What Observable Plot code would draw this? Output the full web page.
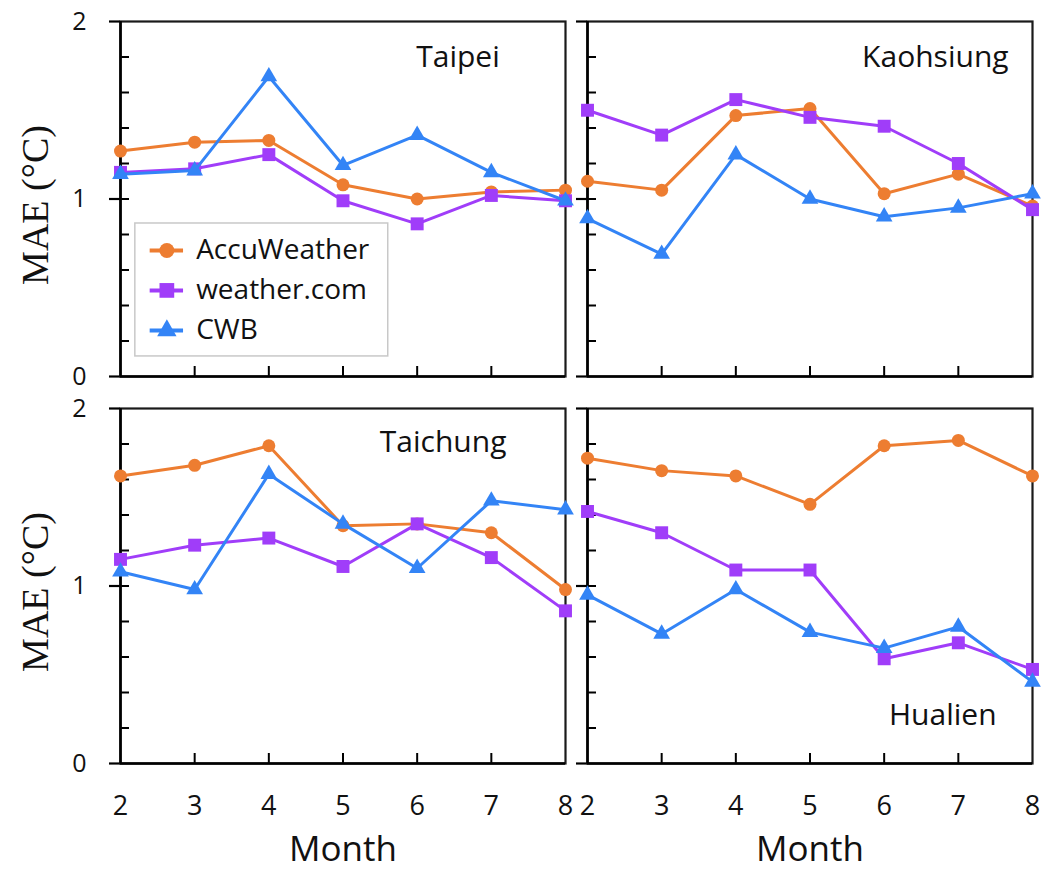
<!DOCTYPE html>
<html>
<head>
<meta charset="utf-8">
<script src="https://cdn.jsdelivr.net/npm/d3@7"></script>
<script src="https://cdn.jsdelivr.net/npm/@observablehq/plot@0.6"></script>
<style>
  html, body { margin: 0; padding: 0; background: #fff; }
  #chart { width: 1057px; height: 870px; }
</style>
</head>
<body>
<div id="chart"></div>
<script>
// ---- data ----
const months = [2, 3, 4, 5, 6, 7, 8];
const sources = ["AccuWeather", "weather.com", "CWB"];
const cities = ["Taipei", "Kaohsiung", "Taichung", "Hualien"];
const panelCol = ["L", "R", "L", "R"];
const panelRow = ["T", "T", "B", "B"];

// MAE per city (Taipei, Kaohsiung, Taichung, Hualien), months 2..8
const accuWeatherMAE = [
  [1.27, 1.32, 1.33, 1.08, 1.00, 1.04, 1.05],
  [1.10, 1.05, 1.47, 1.51, 1.03, 1.14, 0.96],
  [1.62, 1.68, 1.79, 1.34, 1.35, 1.30, 0.98],
  [1.72, 1.65, 1.62, 1.46, 1.79, 1.82, 1.62]
];
const weatherComMAE = [
  [1.15, 1.17, 1.25, 0.99, 0.86, 1.02, 0.99],
  [1.50, 1.36, 1.56, 1.46, 1.41, 1.20, 0.94],
  [1.15, 1.23, 1.27, 1.11, 1.35, 1.16, 0.86],
  [1.42, 1.30, 1.09, 1.09, 0.59, 0.68, 0.53]
];
const cwbMAE = [
  [1.14, 1.16, 1.69, 1.19, 1.36, 1.15, 0.99],
  [0.89, 0.69, 1.25, 1.00, 0.90, 0.95, 1.03],
  [1.08, 0.98, 1.63, 1.35, 1.10, 1.48, 1.43],
  [0.95, 0.73, 0.98, 0.74, 0.65, 0.77, 0.46]
];
const yMajorTicks = [0, 1, 2];
const yMinorTicks = [0.2, 0.4, 0.6, 0.8, 1, 1.2, 1.4, 1.6, 1.8];
const xInnerTicks = [3, 4, 5, 6, 7];
const xTickLabels = [2, 3, 4, 5, 6, 7, 8];

// ---- styles / layout ----
const sourceColors = ["#ED7D31", "#A03DF9", "#3384F6"];
const sourceSymbols = ["circle", "square", "triangle"];
const sourceRadius = [6.5, 7.3, 6.2];
const SANS = "'Open Sans', sans-serif";
const SERIF = "'Liberation Serif', 'DejaVu Serif', serif";
const cityLabelPos = {
  Taipei: [6.55, 1.80],
  Kaohsiung: [6.69, 1.80],
  Taichung: [6.35, 1.81],
  Hualien: [6.79, 0.27]
};
const legendBox = { x1: 2.20, x2: 5.61, y1: 0.113, y2: 0.862 };
const legendRowY = [0.710, 0.485, 0.259];
const legendLine = { x1: 2.40, x2: 2.85, marker: 2.625, text: 3.02 };

// ---- build tables ----
const series = [accuWeatherMAE, weatherComMAE, cwbMAE];
const rows = [];
cities.forEach((city, ci) =>
  sources.forEach((source, si) =>
    months.forEach((month, mi) =>
      rows.push({ city, source, si, month, mae: series[si][ci][mi], col: panelCol[ci], row: panelRow[ci] })
    )
  )
);
const panels = cities.map((city, i) => ({ city, col: panelCol[i], row: panelRow[i] }));
const legendRows = sources.map((source, si) => ({ source, si, ly: legendRowY[si], col: "L", row: "T" }));
const FX = { fx: "col", fy: "row" };

const seriesMarks = sources.flatMap((source, si) => [
  Plot.line(rows.filter(d => d.si === si), {
    ...FX, x: "month", y: "mae", stroke: sourceColors[si], strokeWidth: 3
  }),
  Plot.dot(rows.filter(d => d.si === si), {
    ...FX, x: "month", y: "mae", fill: sourceColors[si], stroke: "none",
    symbol: () => sourceSymbols[si], r: sourceRadius[si]
  })
]);

const legendMarks = [
  Plot.rect([panels[0]], { ...FX, ...legendBox, fill: "white", stroke: "#c8c8c8", strokeWidth: 1.5 }),
  ...legendRows.flatMap(d => [
    Plot.ruleY([d], { ...FX, y: "ly", x1: legendLine.x1, x2: legendLine.x2, stroke: sourceColors[d.si], strokeWidth: 4 }),
    Plot.dot([d], { ...FX, y: "ly", x: legendLine.marker, fill: sourceColors[d.si], stroke: "none",
      symbol: () => sourceSymbols[d.si], r: sourceRadius[d.si] + 1 })
  ]),
  Plot.text(legendRows, { ...FX, y: "ly", x: legendLine.text, text: "source", textAnchor: "start",
    fontSize: 28, fontFamily: SANS, fill: "#111" })
];

const chart = Plot.plot({
  width: 1057,
  height: 870,
  marginLeft: 120,
  marginRight: 24,
  marginTop: 21,
  marginBottom: 107,
  style: { fontFamily: SANS, fontSize: "28px", color: "#000", background: "#fff" },
  x: { domain: [2, 8], axis: null },
  y: { domain: [0, 2], axis: null },
  fx: { domain: ["L", "R"], paddingInner: 0.0471, paddingOuter: 0, axis: null },
  fy: { domain: ["T", "B"], paddingInner: 0.0827, paddingOuter: 0, axis: null },
  marks: [
    // inward minor ticks and major crossing ticks
    Plot.axisY(yMinorTicks, { tickSize: -9, fill: "none", facetAnchor: null, strokeWidth: 2, stroke: "#000" }),
    Plot.axisY(yMajorTicks, { tickSize: 11, fill: "none", facetAnchor: null, strokeWidth: 2.2, stroke: "#000" }),
    Plot.axisX(xInnerTicks, { tickSize: -10, fill: "none", facetAnchor: null, strokeWidth: 2, stroke: "#000" }),
    // tick labels
    Plot.axisY(yMajorTicks, { tickSize: 0, tickPadding: 34, stroke: "none", facetAnchor: "left",
      tickFormat: d3.format("d"), label: null, fontSize: 25, fontFamily: SANS, fill: "#111" }),
    Plot.axisX(xTickLabels, { tickSize: 0, tickPadding: 32, stroke: "none", facetAnchor: "bottom",
      tickFormat: d3.format("d"), label: null, fontSize: 27, fontFamily: SANS, fill: "#111" }),
    // frame
    Plot.frame({ stroke: "#1a1a1a", strokeWidth: 2.2 }),
    Plot.ruleX([2], { stroke: "#000", strokeWidth: 2.6 }),
    Plot.ruleY([0], { stroke: "#000", strokeWidth: 2.6 }),
    // legend
    ...legendMarks,
    // data
    ...seriesMarks,
    // city labels
    Plot.text(panels, { ...FX, x: d => cityLabelPos[d.city][0], y: d => cityLabelPos[d.city][1],
      text: "city", fontSize: 30, fontFamily: SANS, fill: "#111" }),
    // axis titles
    Plot.text(panels.filter(d => d.row === "B"), { ...FX, frameAnchor: "bottom", dy: 86,
      textAnchor: "middle", lineAnchor: "middle",
      text: () => "Month", fontSize: 35, fontFamily: SANS, fill: "#111" }),
    Plot.text(panels.filter(d => d.col === "L"), { ...FX, frameAnchor: "left", dx: -85, dy: 6, rotate: -90,
      textAnchor: "middle", lineAnchor: "middle",
      text: () => "MAE (°C)", fontSize: 38, fontFamily: SERIF, fill: "#111" })
  ]
});
document.getElementById("chart").appendChild(chart);
</script>
</body>
</html>
